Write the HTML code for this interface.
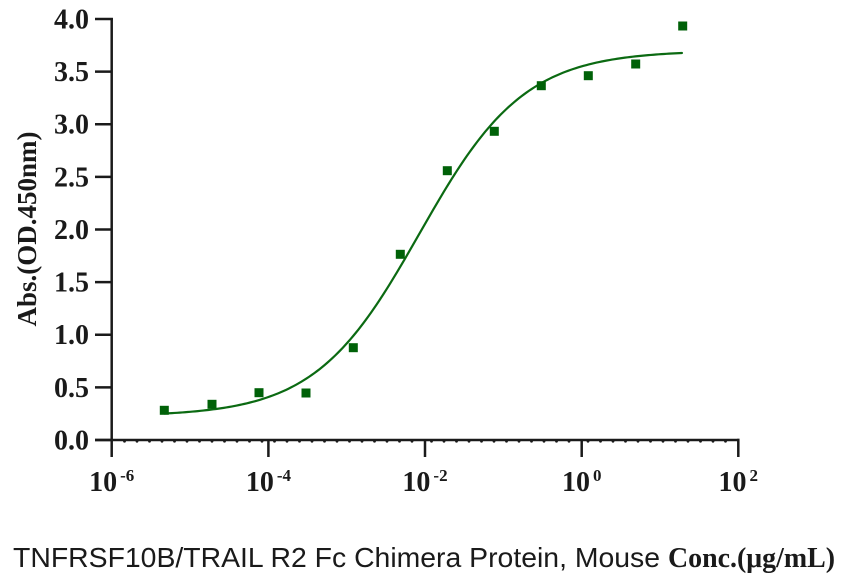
<!DOCTYPE html>
<html>
<head>
<meta charset="utf-8">
<style>
  html,body{margin:0;padding:0;background:#fff;}
  svg{display:block;}
  .tk{font-family:"Liberation Serif","Times New Roman",serif;font-weight:bold;fill:#1a1a1a;}
</style>
</head>
<body>
<svg width="852" height="585" viewBox="0 0 852 585" xmlns="http://www.w3.org/2000/svg">
  <rect width="852" height="585" fill="#fff"/>
  <!-- axes -->
  <g stroke="#1a1a1a" stroke-width="2.5" fill="none">
    <line x1="111.7" y1="18" x2="111.7" y2="457"/>
    <line x1="95" y1="440" x2="739.5" y2="440"/>
    <line x1="95" y1="440" x2="111.7" y2="440"/>
    <line x1="95" y1="387.4" x2="111.7" y2="387.4"/>
    <line x1="95" y1="334.75" x2="111.7" y2="334.75"/>
    <line x1="95" y1="282.1" x2="111.7" y2="282.1"/>
    <line x1="95" y1="229.5" x2="111.7" y2="229.5"/>
    <line x1="95" y1="176.9" x2="111.7" y2="176.9"/>
    <line x1="95" y1="124.25" x2="111.7" y2="124.25"/>
    <line x1="95" y1="71.6" x2="111.7" y2="71.6"/>
    <line x1="95" y1="19" x2="112.9" y2="19"/>
    <line x1="268.4" y1="440" x2="268.4" y2="457"/>
    <line x1="425" y1="440" x2="425" y2="457"/>
    <line x1="581.7" y1="440" x2="581.7" y2="457"/>
    <line x1="738.3" y1="438.8" x2="738.3" y2="457"/>
  </g>
  <!-- minor dots -->
  <g fill="#1a1a1a">
    <circle cx="124.5" cy="441.2" r="1.4"/><circle cx="137" cy="441.2" r="1.4"/><circle cx="149.5" cy="441.2" r="1.4"/><circle cx="162" cy="441.2" r="1.4"/><circle cx="174.5" cy="441.2" r="1.4"/><circle cx="187" cy="441.2" r="1.4"/><circle cx="199.5" cy="441.2" r="1.4"/><circle cx="212" cy="441.2" r="1.4"/><circle cx="224.5" cy="441.2" r="1.4"/><circle cx="237" cy="441.2" r="1.4"/><circle cx="249.5" cy="441.2" r="1.4"/><circle cx="262" cy="441.2" r="1.4"/>
    <circle cx="274.5" cy="441.2" r="1.4"/><circle cx="287" cy="441.2" r="1.4"/><circle cx="299.5" cy="441.2" r="1.4"/><circle cx="312" cy="441.2" r="1.4"/><circle cx="324.5" cy="441.2" r="1.4"/><circle cx="337" cy="441.2" r="1.4"/><circle cx="349.5" cy="441.2" r="1.4"/><circle cx="362" cy="441.2" r="1.4"/><circle cx="374.5" cy="441.2" r="1.4"/><circle cx="387" cy="441.2" r="1.4"/><circle cx="399.5" cy="441.2" r="1.4"/><circle cx="412" cy="441.2" r="1.4"/>
    <circle cx="431.5" cy="441.2" r="1.4"/><circle cx="444" cy="441.2" r="1.4"/><circle cx="456.5" cy="441.2" r="1.4"/><circle cx="469" cy="441.2" r="1.4"/><circle cx="481.5" cy="441.2" r="1.4"/><circle cx="494" cy="441.2" r="1.4"/><circle cx="506.5" cy="441.2" r="1.4"/><circle cx="519" cy="441.2" r="1.4"/><circle cx="531.5" cy="441.2" r="1.4"/><circle cx="544" cy="441.2" r="1.4"/><circle cx="556.5" cy="441.2" r="1.4"/><circle cx="569" cy="441.2" r="1.4"/>
    <circle cx="588" cy="441.2" r="1.4"/><circle cx="600.5" cy="441.2" r="1.4"/><circle cx="613" cy="441.2" r="1.4"/><circle cx="625.5" cy="441.2" r="1.4"/><circle cx="638" cy="441.2" r="1.4"/><circle cx="650.5" cy="441.2" r="1.4"/><circle cx="663" cy="441.2" r="1.4"/><circle cx="675.5" cy="441.2" r="1.4"/><circle cx="688" cy="441.2" r="1.4"/><circle cx="700.5" cy="441.2" r="1.4"/><circle cx="713" cy="441.2" r="1.4"/><circle cx="725.5" cy="441.2" r="1.4"/>
  </g>
  <!-- y tick labels -->
  <g class="tk" font-size="28" text-anchor="end">
    <text x="89" y="449.5">0.0</text>
    <text x="89" y="396.9">0.5</text>
    <text x="89" y="344.2">1.0</text>
    <text x="89" y="291.6">1.5</text>
    <text x="89" y="239">2.0</text>
    <text x="89" y="186.4">2.5</text>
    <text x="89" y="133.7">3.0</text>
    <text x="89" y="81.1">3.5</text>
    <text x="89" y="28.5">4.0</text>
  </g>
  <!-- x tick labels -->
  <g class="tk" font-size="28" text-anchor="middle">
    <text x="111.7" y="491">10<tspan font-size="17" dx="3" dy="-10">-6</tspan></text>
    <text x="268.4" y="491">10<tspan font-size="17" dx="3" dy="-10">-4</tspan></text>
    <text x="425" y="491">10<tspan font-size="17" dx="3" dy="-10">-2</tspan></text>
    <text x="581.7" y="491">10<tspan font-size="17" dx="3" dy="-10">0</tspan></text>
    <text x="738.3" y="491">10<tspan font-size="17" dx="3" dy="-10">2</tspan></text>
  </g>
  <!-- y axis title -->
  <text class="tk" font-size="27" text-anchor="middle" transform="translate(36,229) rotate(-90)">Abs.(OD.450nm)</text>
  <!-- curve -->
  <polyline id="fit" fill="none" stroke="#0b6a12" stroke-width="2.2" stroke-linejoin="round" stroke-linecap="round"
    points="164.2,413.6 195.5,411.4 215.1,409.1 234.7,405.9 254.3,401.4 273.9,395.1 293.5,386.2 313.0,374.1 332.6,357.9 352.2,337.2 371.8,311.6 391.4,281.5 411.0,248.4 430.5,214.3 450.1,181.5 469.7,152.0 489.3,127.0 508.9,106.8 528.5,91.2 548.1,79.5 567.6,71.0 587.2,64.9 606.8,60.6 626.4,57.5 646.0,55.3 665.5,53.8 682.0,53.0"/>
  <!-- points -->
  <g fill="#006108">
    <rect x="159.8" y="405.8" width="9" height="9"/>
    <rect x="207.5" y="399.8" width="9" height="9"/>
    <rect x="254.5" y="388.2" width="9" height="9"/>
    <rect x="301.5" y="388.5" width="9" height="9"/>
    <rect x="348.8" y="343.2" width="9" height="9"/>
    <rect x="395.8" y="249.8" width="9" height="9"/>
    <rect x="442.8" y="166.2" width="9" height="9"/>
    <rect x="489.8" y="126.8" width="9" height="9"/>
    <rect x="536.8" y="81.2" width="9" height="9"/>
    <rect x="583.8" y="71.2" width="9" height="9"/>
    <rect x="631.2" y="59.5" width="9" height="9"/>
    <rect x="678.2" y="21.5" width="9" height="9"/>
  </g>
  <!-- bottom title -->
  <text x="13" y="567" font-size="28" fill="#1a1a1a" font-family="'Liberation Sans', Arial, sans-serif" textLength="647" lengthAdjust="spacingAndGlyphs">TNFRSF10B/TRAIL R2 Fc Chimera Protein, Mouse</text>
  <text x="668" y="567" font-size="28" fill="#1a1a1a" font-family="'Liberation Serif','Times New Roman',serif" font-weight="bold" textLength="167" lengthAdjust="spacingAndGlyphs">Conc.(μg/mL)</text>
</svg>
<script>
(function(){
  var B=0.225,R=3.475,c=-2.07,k=1.4967,pts=[];
  var L0=-5.33,L1=1.28,n=200;
  for(var i=0;i<=n;i++){
    var L=L0+(L1-L0)*i/n;
    var v=B+R/(1+Math.exp(-k*(L-c)));
    var x=111.7+(L+6)*78.33, y=440-v*105.25;
    pts.push(x.toFixed(2)+","+y.toFixed(2));
  }
  var el=document.getElementById("fit");
  if(el) el.setAttribute("points",pts.join(" "));
})();
</script>
</body>
</html>
